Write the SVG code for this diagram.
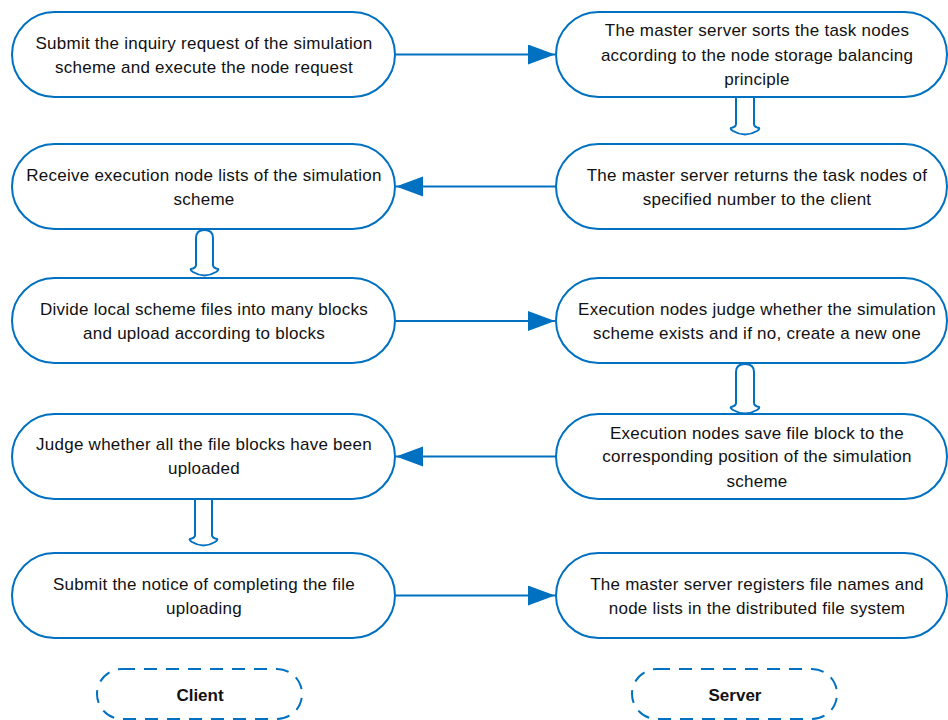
<svg xmlns="http://www.w3.org/2000/svg" width="948" height="720" viewBox="0 0 948 720">
<style>
.node{fill:#fff;stroke:#0070C0;stroke-width:2}
.lbl{fill:#fff;stroke:#0070C0;stroke-width:2;stroke-dasharray:13 9}
.t{font-family:"Liberation Sans",Arial,sans-serif;font-size:17px;letter-spacing:0.25px;fill:#111;text-anchor:middle}
.b{font-weight:bold;letter-spacing:0}
.conn{stroke:#0070C0;stroke-width:2;fill:none}
.blk{fill:#fff;stroke:#0070C0;stroke-width:2}
</style>
<defs>
<marker id="ah" markerUnits="userSpaceOnUse" markerWidth="28" markerHeight="22" refX="27" refY="10" orient="auto">
<path d="M0,0 L27,10 L0,20 Z" fill="#0070C0"/>
</marker>
</defs>
<rect width="948" height="720" fill="#fff"/>
<g id="connectors">
<line class="conn" x1="395" y1="54.5" x2="555" y2="54.5" marker-end="url(#ah)"/>
<line class="conn" x1="556" y1="186.5" x2="396" y2="186.5" marker-end="url(#ah)"/>
<line class="conn" x1="395" y1="321" x2="555" y2="321" marker-end="url(#ah)"/>
<line class="conn" x1="556" y1="456.5" x2="396" y2="456.5" marker-end="url(#ah)"/>
<line class="conn" x1="395" y1="595.5" x2="555" y2="595.5" marker-end="url(#ah)"/>
<path class="blk" d="M736,97 L736,124 Q736,127 731,128 Q730,129 733,131 Q745,138 757,131 Q760,129 759,128 Q754,127 754,124 L754,97"/>
<path class="blk" d="M196,238 Q196,230 204.5,230 Q213,230 213,238 L213,265 Q213,268 218,269 Q219,270 216,272 Q204.5,279 193,272 Q190,270 191,269 Q196,268 196,265 Z"/>
<path class="blk" d="M736,372 Q736,364 745,364 Q754,364 754,372 L754,403 Q754,406 759,407 Q760,408 757,410 Q745,417 733,410 Q730,408 731,407 Q736,406 736,403 Z"/>
<path class="blk" d="M195,499 L195,535 Q195,538 190,539 Q189,540 192,542 Q203.5,549 215,542 Q218,540 217,539 Q212,538 212,535 L212,499"/>
</g>
<g id="n1"><rect class="node" x="12" y="12" width="383" height="85" rx="42.5"/>
<text class="t" x="204" y="48.5">Submit the inquiry request of the simulation</text>
<text class="t" x="204" y="72.5">scheme and execute the node request</text></g>
<g id="n2"><rect class="node" x="12" y="144" width="383" height="85" rx="42.5"/>
<text class="t" x="204" y="180.5">Receive execution node lists of the simulation</text>
<text class="t" x="204" y="204.5">scheme</text></g>
<g id="n3"><rect class="node" x="12" y="278" width="383" height="85" rx="42.5"/>
<text class="t" x="204" y="314.5">Divide local scheme files into many blocks</text>
<text class="t" x="204" y="338.5">and upload according to blocks</text></g>
<g id="n4"><rect class="node" x="12" y="414" width="383" height="85" rx="42.5"/>
<text class="t" x="204" y="450">Judge whether all the file blocks have been</text>
<text class="t" x="204" y="474">uploaded</text></g>
<g id="n5"><rect class="node" x="12" y="553" width="383" height="85" rx="42.5"/>
<text class="t" x="204" y="589.5">Submit the notice of completing the file</text>
<text class="t" x="204" y="613.5">uploading</text></g>
<g id="s1"><rect class="node" x="556" y="12" width="391" height="85" rx="42.5"/>
<text class="t" x="757" y="36">The master server sorts the task nodes</text>
<text class="t" x="757" y="60.5">according to the node storage balancing</text>
<text class="t" x="757" y="85">principle</text></g>
<g id="s2"><rect class="node" x="556" y="144" width="391" height="85" rx="42.5"/>
<text class="t" x="757" y="180.5">The master server returns the task nodes of</text>
<text class="t" x="757" y="204.5">specified number to the client</text></g>
<g id="s3"><rect class="node" x="556" y="278" width="391" height="85" rx="42.5"/>
<text class="t" x="757" y="314.5">Execution nodes judge whether the simulation</text>
<text class="t" x="757" y="338.5">scheme exists and if no, create a new one</text></g>
<g id="s4"><rect class="node" x="556" y="414" width="391" height="85" rx="42.5"/>
<text class="t" x="757" y="438.5">Execution nodes save file block to the</text>
<text class="t" x="757" y="462">corresponding position of the simulation</text>
<text class="t" x="757" y="486.5">scheme</text></g>
<g id="s5"><rect class="node" x="556" y="553" width="391" height="85" rx="42.5"/>
<text class="t" x="757" y="589.5">The master server registers file names and</text>
<text class="t" x="757" y="613.5">node lists in the distributed file system</text></g>
<g id="client"><rect class="lbl" x="97" y="669" width="205" height="50" rx="25"/>
<text class="t b" x="200" y="701">Client</text></g>
<g id="server"><rect class="lbl" x="632" y="669" width="205" height="50" rx="25"/>
<text class="t b" x="735" y="701">Server</text></g>
</svg>
